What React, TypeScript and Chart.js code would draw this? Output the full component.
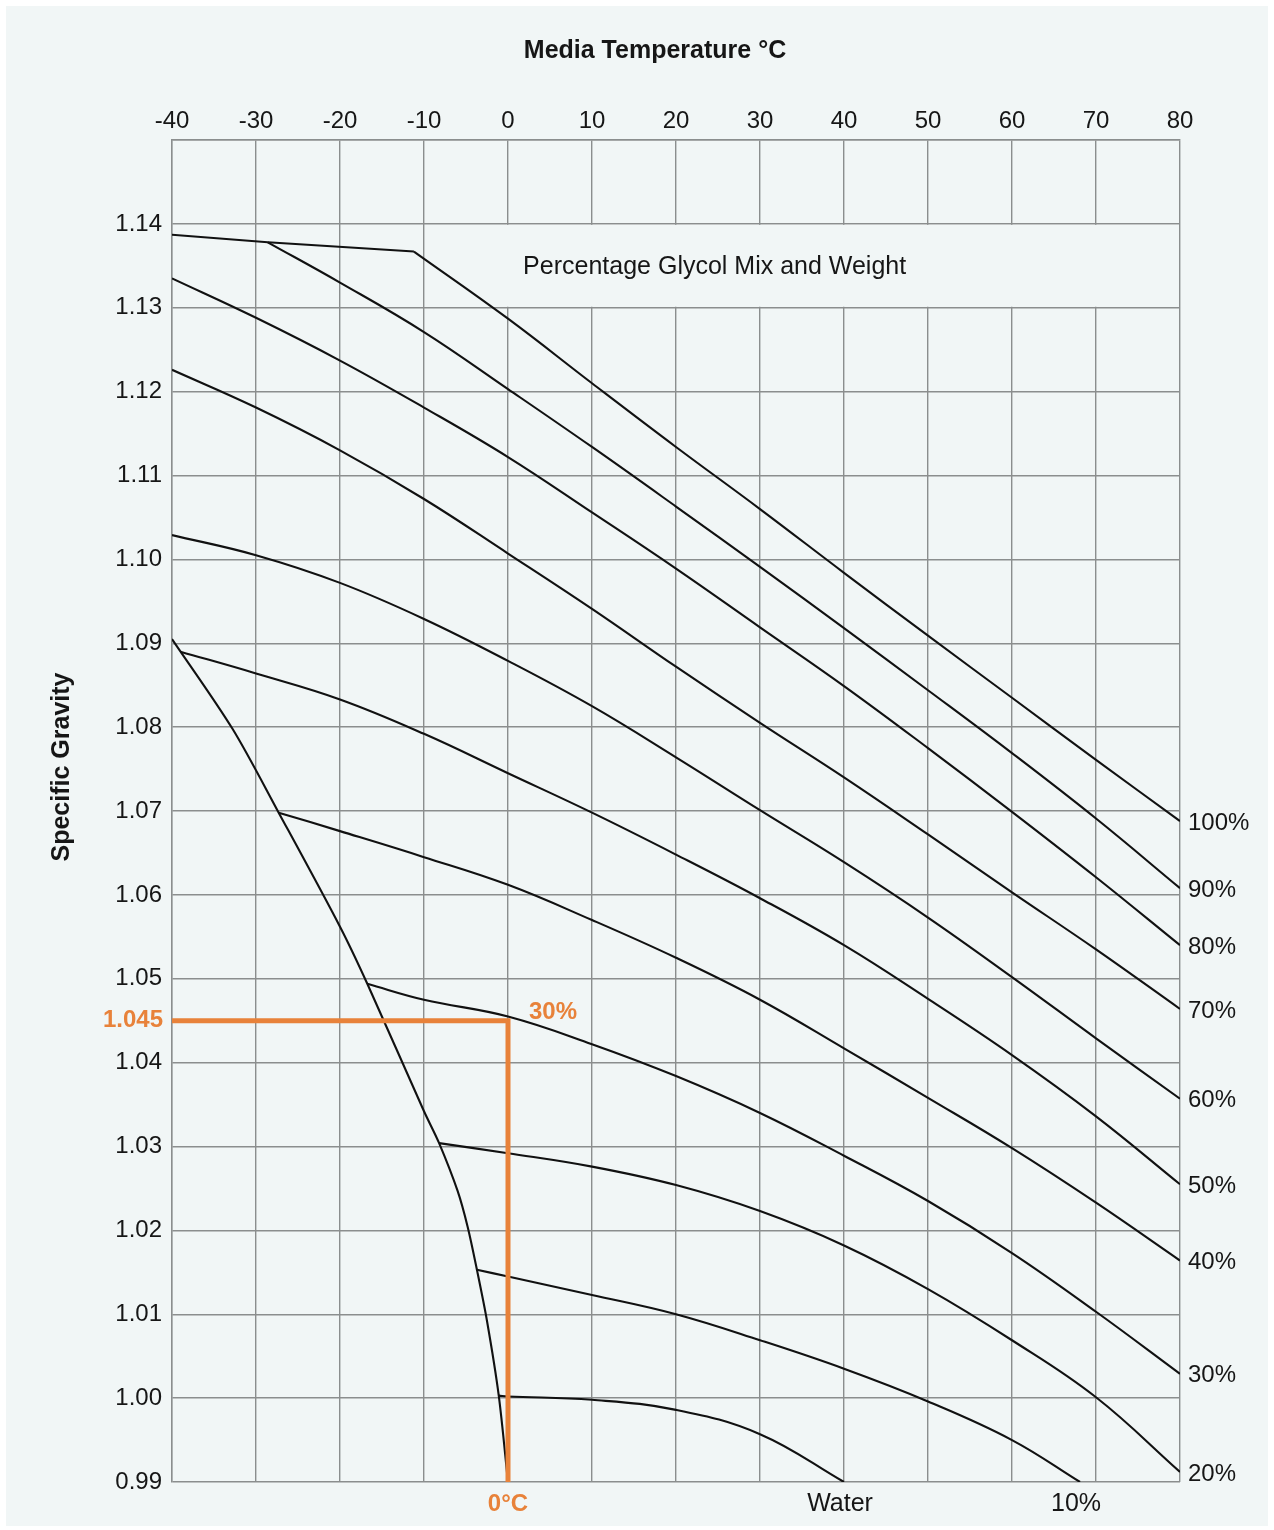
import React, { useEffect, useRef } from 'react';
import { Chart, registerables } from 'chart.js';

Chart.register(...registerables);

// ---- Data (temperature °C, specific gravity) ----
const TEMP_MIN = -40;
const TEMP_MAX = 80;
const SG_MIN = 0.99;
const SG_MAX = 1.15;
const SG_LABEL_MAX = 1.14;

const topBoundary = [[-40, 1.1387], [-28.6, 1.1378], [-11.2, 1.1367]];
const glycol100 = [[-11.2, 1.1367], [0, 1.1287], [10, 1.121], [20, 1.1134], [30, 1.106], [40, 1.0984], [50, 1.0909], [60, 1.0835], [70, 1.0761], [80, 1.0688]];
const glycol90 = [[-28.6, 1.1378], [-20, 1.133], [-10, 1.1271], [0, 1.1203], [10, 1.1134], [20, 1.1063], [30, 1.0991], [40, 1.0918], [50, 1.0844], [60, 1.0769], [70, 1.0691], [80, 1.0608]];
const glycol80 = [[-40, 1.1335], [-30, 1.1288], [-20, 1.1237], [-10, 1.1181], [0, 1.1122], [10, 1.1056], [20, 1.0989], [30, 1.0919], [40, 1.0849], [50, 1.0775], [60, 1.0699], [70, 1.0621], [80, 1.054]];
const glycol70 = [[-40, 1.1226], [-30, 1.1181], [-20, 1.113], [-10, 1.1072], [0, 1.1007], [10, 1.0941], [20, 1.0872], [30, 1.0805], [40, 1.074], [50, 1.0672], [60, 1.0603], [70, 1.0535], [80, 1.0464]];
const glycol60 = [[-40, 1.1029], [-30, 1.1005], [-20, 1.0972], [-10, 1.0929], [0, 1.0879], [10, 1.0825], [20, 1.0764], [30, 1.0701], [40, 1.0639], [50, 1.0573], [60, 1.0502], [70, 1.0429], [80, 1.0357]];
const glycol50 = [[-39, 1.089], [-30, 1.0864], [-20, 1.0833], [-10, 1.0792], [0, 1.0745], [10, 1.0698], [20, 1.0648], [30, 1.0596], [40, 1.054], [50, 1.0476], [60, 1.0409], [70, 1.0336], [80, 1.0255]];
const glycol40 = [[-27.3, 1.0698], [-20, 1.0676], [-10, 1.0645], [0, 1.0612], [10, 1.057], [20, 1.0525], [30, 1.0475], [40, 1.0417], [50, 1.0358], [60, 1.0298], [70, 1.0233], [80, 1.0164]];
const glycol30 = [[-16.75, 1.0494], [-10, 1.0475], [0, 1.0455], [10, 1.0422], [20, 1.0384], [30, 1.034], [40, 1.0289], [50, 1.0235], [60, 1.0173], [70, 1.0103], [80, 1.0029]];
const glycol20 = [[-8.2, 1.0304], [0, 1.0292], [10, 1.0276], [20, 1.0254], [30, 1.0223], [40, 1.0182], [50, 1.013], [60, 1.0069], [70, 1.0001], [80, 0.9912]];
const glycol10 = [[-3.7, 1.0153], [0, 1.0145], [10, 1.0123], [20, 1.01], [30, 1.0069], [40, 1.0035], [50, 0.9996], [60, 0.995], [68.1, 0.99]];
const water = [[-1.1, 1.0003], [0, 1.0002], [10, 0.9998], [20, 0.9986], [30, 0.9957], [40, 0.99]];
const freezing = [[-40, 1.0905], [-32.8, 1.0798], [-27.3, 1.0698], [-20, 1.0562], [-16.75, 1.0494], [-10, 1.0342], [-8.2, 1.0304], [-6, 1.0247], [-4.8, 1.0204], [-3.7, 1.0153], [-2.5, 1.0092], [-1.1, 1.0003], [0, 0.99]];
const orangeGuide = [[-40, 1.045], [0, 1.045], [0, 0.99]];

const rightCurves = [glycol100, glycol90, glycol80, glycol70, glycol60, glycol50, glycol40, glycol30, glycol20];
const rightLabels = ['100%', '90%', '80%', '70%', '60%', '50%', '40%', '30%', '20%'];
const bottomCurves = [water, glycol10];
const bottomLabels = ['Water', '10%'];

const X_TITLE = 'Media Temperature °C';
const Y_TITLE = 'Specific Gravity';
const BOX_TEXT = 'Percentage Glycol Mix and Weight';
const GUIDE_TEMP_LABEL = '0°C';
const GUIDE_SG_LABEL = '1.045';
const GUIDE_CURVE_LABEL = '30%';
const GUIDE_SG = 1.045;
const GUIDE_TEMP = 0;

const FONT = '"Liberation Sans", Arial, Helvetica, sans-serif';
const TEXT = '#161616';
const ORANGE = '#e8823a';
const GRID = '#8b8e8e';
const PANEL = '#f1f6f6';

const toXY = (arr: number[][]) => arr.map(([x, y]) => ({ x, y }));

export default function App() {
  const ref = useRef<HTMLCanvasElement | null>(null);

  useEffect(() => {
    if (!ref.current) return;

    const curveDs = (data: number[][], tension = 0.4) => ({
      data: toXY(data),
      borderColor: '#111111',
      borderWidth: 2.1,
      pointRadius: 0,
      showLine: true,
      fill: false,
      tension,
    });

    const decor = {
      id: 'decor',
      beforeDraw(chart: any) {
        const c = chart.ctx;
        c.save();
        c.fillStyle = '#ffffff';
        c.fillRect(0, 0, chart.width, chart.height);
        c.fillStyle = PANEL;
        c.fillRect(6, 6, chart.width - 12, chart.height - 10);
        c.restore();
      },
      beforeDatasetsDraw(chart: any) {
        const c = chart.ctx;
        const xs = chart.scales.x;
        const ys = chart.scales.y;
        const x0 = xs.getPixelForValue(0) - 2;
        const x1 = xs.getPixelForValue(TEMP_MAX) - 1;
        const y0 = ys.getPixelForValue(1.14) + 1;
        const y1 = ys.getPixelForValue(1.13) - 1;
        c.save();
        c.fillStyle = PANEL;
        c.fillRect(x0, y0, x1 - x0, y1 - y0);
        c.restore();
      },
      afterDraw(chart: any) {
        const c = chart.ctx;
        const xs = chart.scales.x;
        const ys = chart.scales.y;
        const area = chart.chartArea;
        c.save();
        // axis titles
        c.fillStyle = TEXT;
        c.font = `bold 25px ${FONT}`;
        c.textAlign = 'center';
        c.textBaseline = 'middle';
        c.fillText(X_TITLE, 655, 51);
        c.save();
        c.translate(62, 767);
        c.rotate(-Math.PI / 2);
        c.fillText(Y_TITLE, 0, 0);
        c.restore();

        // box text
        c.font = `25px ${FONT}`;
        c.textAlign = 'left';
        c.fillText(BOX_TEXT, xs.getPixelForValue(1.8), ys.getPixelForValue(1.135) + 1);

        // right labels
        c.font = `24px ${FONT}`;
        rightCurves.forEach((arr, i) => {
          const last = arr[arr.length - 1];
          c.fillText(rightLabels[i], area.right + 8, ys.getPixelForValue(last[1]) + 2);
        });
        // bottom labels
        c.font = `25px ${FONT}`;
        c.textAlign = 'center';
        bottomCurves.forEach((arr, i) => {
          const last = arr[arr.length - 1];
          c.fillText(bottomLabels[i], xs.getPixelForValue(last[0]) - 4, area.bottom + 22);
        });

        // orange annotations
        c.fillStyle = ORANGE;
        c.font = `bold 24px ${FONT}`;
        c.textAlign = 'center';
        c.fillText(GUIDE_TEMP_LABEL, xs.getPixelForValue(GUIDE_TEMP), area.bottom + 22);
        c.textAlign = 'right';
        c.fillText(GUIDE_SG_LABEL, area.left - 9, ys.getPixelForValue(GUIDE_SG));
        c.textAlign = 'left';
        c.fillText(GUIDE_CURVE_LABEL, xs.getPixelForValue(2.5), ys.getPixelForValue(1.046));
        c.restore();
      },
    };

    const chart = new Chart(ref.current, {
      type: 'scatter',
      data: {
        datasets: [
          {
            data: toXY(orangeGuide),
            borderColor: ORANGE,
            borderWidth: 5,
            pointRadius: 0,
            showLine: true,
            tension: 0,
            borderCapStyle: 'butt',
            borderJoinStyle: 'miter',
          } as any,
          curveDs(topBoundary, 0),
          curveDs(glycol100),
          curveDs(glycol90),
          curveDs(glycol80),
          curveDs(glycol70),
          curveDs(glycol60),
          curveDs(glycol50),
          curveDs(glycol40),
          curveDs(glycol30),
          curveDs(glycol20),
          curveDs(glycol10),
          curveDs(water),
          curveDs(freezing, 0.3),
        ],
      },
      options: {
        responsive: false,
        animation: false,
        devicePixelRatio: 1,
        layout: { padding: { left: 0, top: 0, right: 94, bottom: 48 } },
        plugins: { legend: { display: false }, tooltip: { enabled: false }, title: { display: false } },
        scales: {
          x: {
            type: 'linear',
            position: 'top',
            min: TEMP_MIN,
            max: TEMP_MAX,
            afterFit: (s: any) => { s.height = 140; },
            ticks: {
              stepSize: 10,
              padding: 4,
              color: TEXT,
              font: { family: FONT, size: 24 },
              maxRotation: 0,
              autoSkip: false,
            },
            grid: { color: GRID, lineWidth: 1.4, drawTicks: false },
            border: { display: true, color: GRID, width: 1.4 },
          },
          y: {
            type: 'linear',
            position: 'left',
            min: SG_MIN,
            max: SG_MAX,
            afterFit: (s: any) => { s.width = 172; },
            ticks: {
              stepSize: 0.01,
              padding: 10,
              color: TEXT,
              font: { family: FONT, size: 24 },
              autoSkip: false,
              callback: (v: any) => (Number(v) > SG_LABEL_MAX + 0.001 ? '' : Number(v).toFixed(2)),
            },
            grid: { color: GRID, lineWidth: 1.4, drawTicks: false },
            border: { display: true, color: GRID, width: 1.4 },
          },
        },
      } as any,
      plugins: [decor],
    });

    return () => chart.destroy();
  }, []);

  return (
    <div style={{ position: 'absolute', left: 0, top: 0, width: 1274, height: 1530 }}>
      <canvas ref={ref} width={1274} height={1530} style={{ display: 'block', width: 1274, height: 1530 }} />
    </div>
  );
}
